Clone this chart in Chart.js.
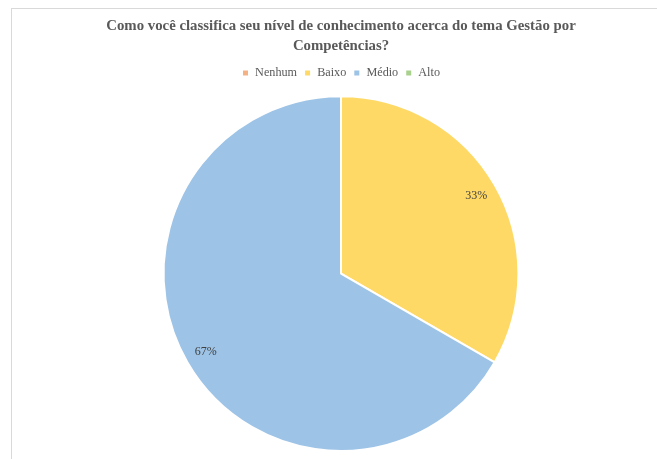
<!DOCTYPE html>
<html>
<head>
<meta charset="utf-8">
<script src="https://cdn.jsdelivr.net/npm/chart.js@4.4.1/dist/chart.umd.min.js"></script>
<style>
  html, body { margin: 0; padding: 0; background: #fff; overflow: hidden; }
  #frame {
    position: absolute; left: 11px; top: 8px; width: 660px; height: 470px;
    border-top: 1px solid #d9d9d9; border-left: 1px solid #d9d9d9;
  }
  #box { position: absolute; left: 0; top: 0; width: 658px; height: 451px; }
</style>
</head>
<body>
<div id="frame"><div id="box"><canvas id="pieChart"></canvas></div></div>
<script>
// dados do gráfico (respostas por nível)
const categorias = ['Nenhum', 'Baixo', 'Médio', 'Alto'];
const valores = [0, 1, 2, 0];
const cores = ['#F4B183', '#FFD966', '#9DC3E6', '#A9D18E'];

const fonte = 'Liberation Serif, Times New Roman, serif';

// espaço extra entre a legenda e a pizza
const espacoLegenda = {
    id: 'espacoLegenda',
    beforeUpdate(chart) {
        const lg = chart.legend;
        if (lg && !lg._extra) {
            const fitOrig = lg.fit.bind(lg);
            lg.fit = function () { fitOrig(); this.height += 6; };
            lg._extra = true;
        }
    }
};

// rótulos de porcentagem dentro das fatias
const rotulosPlugin = {
    id: 'rotulos',
    afterDatasetsDraw(chart) {
        const ctx = chart.ctx;
        const meta = chart.getDatasetMeta(0);
        const total = valores.reduce((a, b) => a + b, 0);
        ctx.save();
        ctx.font = '12px ' + fonte;
        ctx.fillStyle = '#404040';
        ctx.textAlign = 'center';
        ctx.textBaseline = 'middle';
        meta.data.forEach((arc, i) => {
            if (!valores[i]) return;
            const p = arc.getProps(['x', 'y', 'startAngle', 'endAngle', 'outerRadius'], true);
            const meio = (p.startAngle + p.endAngle) / 2;
            const r = p.outerRadius * 0.88;
            const pct = Math.round(valores[i] / total * 100) + '%';
            ctx.fillText(pct, p.x + Math.cos(meio) * r, p.y + Math.sin(meio) * r);
        });
        ctx.restore();
    }
};

const ctx = document.getElementById('pieChart').getContext('2d');
new Chart(ctx, {
    type: 'pie',
    data: {
        labels: categorias,
        datasets: [{
            data: valores,
            backgroundColor: cores,
            borderColor: '#ffffff',
            borderWidth: 2
        }]
    },
    options: {
        responsive: true,
        maintainAspectRatio: false,
        animation: false,
        layout: { padding: { bottom: 8 } },
        plugins: {
            title: {
                display: true,
                text: ['Como você classifica seu nível de conhecimento acerca do tema Gestão por', 'Competências?'],
                color: '#595959',
                font: { family: fonte, size: 14.8, weight: 'bold', lineHeight: 1.35 },
                padding: { top: 7, bottom: 4 }
            },
            legend: {
                position: 'top',
                labels: {
                    color: '#595959',
                    font: { family: fonte, size: 12.2 },
                    boxWidth: 7,
                    boxHeight: 7,
                    padding: 7
                }
            },
            tooltip: { enabled: false }
        }
    },
    plugins: [espacoLegenda, rotulosPlugin]
});
</script>
</body>
</html>
